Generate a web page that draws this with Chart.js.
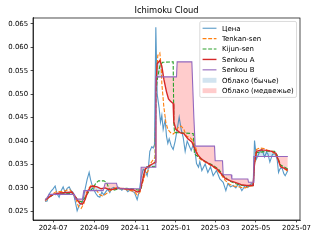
<!DOCTYPE html>
<html>
<head>
<meta charset="utf-8">
<script src="https://cdn.jsdelivr.net/npm/chart.js@4.4.1/dist/chart.umd.min.js"></script>
<style>
  html, body { margin: 0; padding: 0; background: #fff; }
</style>
</head>
<body>
<canvas id="myChart" width="320" height="240"></canvas>
<script>
(() => {
  'use strict'

  // x values are days counted from 2024-07-01
  const tickLabels = ['2024-07', '2024-09', '2024-11', '2025-01', '2025-03', '2025-05', '2025-07']
  const yTicks = [0.025, 0.030, 0.035, 0.040, 0.045, 0.050, 0.055, 0.060, 0.065]

  const priceDays = [
    -12, -9, -6, -3, 0, 3, 6, 9, 12, 15,
    18, 21, 24, 27, 30, 33, 36, 39, 42, 45,
    48, 51, 54, 56, 58, 61, 64, 67, 70, 73,
    76, 79, 82, 85, 88, 91, 94, 97, 100, 103,
    106, 109, 112, 115, 118, 122, 126, 129, 132, 135,
    138, 141, 143, 145, 148, 150, 152, 154, 156, 159,
    161, 163, 165, 168, 170, 172, 174, 177, 180, 183,
    186, 189, 192, 195, 198, 201, 204, 207, 210, 213,
    215, 218, 220, 223, 228, 232, 236, 240, 245, 250,
    255, 259, 262, 266, 270, 274, 278, 283, 288, 292,
    297, 300, 302, 305, 309, 313, 317, 320, 322, 325,
    329, 333, 336, 338, 340, 343, 346, 348, 352
  ]
  const priceValues = [
    0.0271, 0.0272, 0.0287, 0.0293, 0.0298, 0.0304, 0.0287, 0.0280, 0.0294, 0.0302,
    0.0290, 0.0299, 0.0302, 0.0294, 0.0290, 0.0272, 0.0251, 0.0262, 0.0266, 0.0276,
    0.0298, 0.0318, 0.0333, 0.0318, 0.0308, 0.0296, 0.0288, 0.0282, 0.0280, 0.0291,
    0.0285, 0.0292, 0.0297, 0.0290, 0.0299, 0.0301, 0.0298, 0.0302, 0.0299, 0.0295,
    0.0299, 0.0297, 0.0292, 0.0296, 0.0293, 0.0290, 0.0275, 0.0292, 0.0322, 0.0340,
    0.0336, 0.0326, 0.0345, 0.0378, 0.0388, 0.0385, 0.0392, 0.0643, 0.0500, 0.0470,
    0.0440, 0.0455, 0.0425, 0.0445, 0.0410, 0.0395, 0.0405, 0.0390, 0.0382, 0.0400,
    0.0425, 0.0451, 0.0425, 0.0408, 0.0378, 0.0400, 0.0390, 0.0380, 0.0392, 0.0376,
    0.0352, 0.0344, 0.0356, 0.0337, 0.0351, 0.0333, 0.0345, 0.0326, 0.0337, 0.0319,
    0.0312, 0.0294, 0.0309, 0.0302, 0.0305, 0.0300, 0.0309, 0.0294, 0.0305, 0.0301,
    0.0309, 0.0307, 0.0401, 0.0362, 0.0375, 0.0383, 0.0366, 0.0376, 0.0373, 0.0355,
    0.0372, 0.0373, 0.0360, 0.0333, 0.0340, 0.0344, 0.0330, 0.0326, 0.0337
  ]

  const tenkanDays = [
    -12, -6, 0, 5, 10, 15, 20, 25, 30, 34,
    38, 42, 46, 50, 54, 58, 62, 66, 70, 74,
    78, 82, 86, 90, 94, 98, 102, 106, 110, 114,
    118, 122, 126, 130, 134, 138, 142, 146, 150, 153,
    154, 157, 160, 162, 163, 166, 169, 172, 176, 180,
    184, 188, 192, 196, 200, 205, 210, 214, 218, 222,
    228, 234, 240, 246, 252, 258, 264, 270, 276, 282,
    288, 294, 300, 302, 305, 310, 316, 322, 328, 334,
    338, 342, 346, 352
  ]
  const tenkanValues = [
    0.0272, 0.0280, 0.0288, 0.0292, 0.0292, 0.0292, 0.0295, 0.0296, 0.0288, 0.0277,
    0.0260, 0.0256, 0.0266, 0.0290, 0.0300, 0.0307, 0.0300, 0.0293, 0.0285, 0.0283,
    0.0286, 0.0290, 0.0294, 0.0298, 0.0300, 0.0300, 0.0298, 0.0298, 0.0296, 0.0294,
    0.0294, 0.0292, 0.0285, 0.0290, 0.0310, 0.0330, 0.0335, 0.0352, 0.0360, 0.0365,
    0.0520, 0.0583, 0.0588, 0.0560, 0.0523, 0.0473, 0.0440, 0.0425, 0.0418, 0.0415,
    0.0420, 0.0430, 0.0432, 0.0425, 0.0410, 0.0408, 0.0400, 0.0385, 0.0365, 0.0360,
    0.0355, 0.0350, 0.0345, 0.0338, 0.0328, 0.0316, 0.0308, 0.0304, 0.0303, 0.0301,
    0.0300, 0.0303, 0.0305, 0.0350, 0.0382, 0.0385, 0.0384, 0.0380, 0.0378, 0.0370,
    0.0360, 0.0345, 0.0342, 0.0335
  ]

  const kijunDays = [
    -12, 0, 10, 20, 30, 34, 38, 44, 50, 54,
    60, 64, 68, 76, 80, 84, 90, 100, 110, 120,
    128, 132, 136, 140, 153, 154, 156, 160, 164, 180,
    181, 182, 210, 212, 216, 222, 230, 240, 248, 256,
    264, 272, 280, 290, 300, 302, 304, 320, 332, 336,
    340, 346, 352
  ]
  const kijunValues = [
    0.0275, 0.0285, 0.0287, 0.0288, 0.0288, 0.0280, 0.0272, 0.0270, 0.0285, 0.0292,
    0.0300, 0.0310, 0.0315, 0.0315, 0.0312, 0.0298, 0.0295, 0.0298, 0.0299, 0.0298,
    0.0295, 0.0300, 0.0330, 0.0345, 0.0346, 0.0500, 0.0530, 0.0560, 0.0568, 0.0569,
    0.0440, 0.0418, 0.0416, 0.0372, 0.0368, 0.0362, 0.0355, 0.0348, 0.0340, 0.0325,
    0.0315, 0.0310, 0.0306, 0.0304, 0.0305, 0.0352, 0.0375, 0.0378, 0.0378, 0.0370,
    0.0350, 0.0345, 0.0340
  ]

  const spanADays = [
    -12, -6, 0, 10, 20, 28, 32, 36, 40, 44,
    48, 52, 56, 60, 66, 72, 78, 84, 90, 96,
    102, 108, 114, 120, 126, 130, 134, 138, 144, 150,
    153, 154, 156, 160, 163, 166, 170, 173, 176, 180,
    181, 184, 190, 196, 202, 208, 212, 216, 222, 228,
    234, 240, 246, 252, 258, 266, 274, 282, 290, 300,
    302, 305, 312, 320, 328, 334, 338, 341, 346, 352
  ]
  const spanAValues = [
    0.0274, 0.0280, 0.0286, 0.0289, 0.0290, 0.0291, 0.0284, 0.0275, 0.0267, 0.0265,
    0.0275, 0.0292, 0.0302, 0.0304, 0.0302, 0.0298, 0.0300, 0.0296, 0.0297, 0.0299,
    0.0299, 0.0298, 0.0297, 0.0296, 0.0291, 0.0293, 0.0315, 0.0340, 0.0347, 0.0352,
    0.0355, 0.0510, 0.0565, 0.0572, 0.0560, 0.0532, 0.0505, 0.0490, 0.0485, 0.0480,
    0.0440, 0.0425, 0.0418, 0.0416, 0.0405, 0.0398, 0.0385, 0.0372, 0.0362, 0.0356,
    0.0351, 0.0346, 0.0340, 0.0330, 0.0320, 0.0315, 0.0311, 0.0307, 0.0305, 0.0305,
    0.0352, 0.0378, 0.0381, 0.0380, 0.0378, 0.0374, 0.0358, 0.0345, 0.0342, 0.0338
  ]

  const spanBDays = [
    -12, -6, 32, 33, 44, 46, 75, 78, 95, 97,
    131, 132, 153, 154, 185, 186, 208, 211, 213, 242,
    243, 254, 255, 267, 268, 292, 293, 300, 301, 352
  ]
  const spanBValues = [
    0.0273, 0.0286, 0.0286, 0.0276, 0.0276, 0.0294, 0.0294, 0.0310, 0.0310, 0.0298,
    0.0298, 0.0344, 0.0344, 0.0537, 0.0537, 0.0569, 0.0569, 0.0451, 0.0389, 0.0389,
    0.0358, 0.0358, 0.0328, 0.0328, 0.0319, 0.0319, 0.0312, 0.0312, 0.0367, 0.0367
  ]

  const cloudLabels = ['Облако (бычье)', 'Облако (медвежье)']
  const bullColor = 'rgba(31, 119, 180, 0.2)'
  const bearColor = 'rgba(255, 0, 0, 0.2)'

  const font = '"DejaVu Sans", sans-serif'
  const toPoints = (days, vals) => days.map((d, i) => ({ x: d, y: vals[i] }))
  const dayOf = s => {
    const [y, m] = s.split('-').map(Number)
    return (Date.UTC(y, m - 1, 1) - Date.UTC(2024, 6, 1)) / 864e5
  }

  // matplotlib-like 5% margins
  const allDays = [].concat(priceDays, tenkanDays, kijunDays, spanADays, spanBDays)
  const allVals = [].concat(priceValues, tenkanValues, kijunValues, spanAValues, spanBValues)
  const xMin = Math.min(...allDays)
  const xMax = Math.max(...allDays)
  const yMin = Math.min(...allVals)
  const yMax = Math.max(...allVals)
  const xPad = (xMax - xMin) * 0.05
  const yPad = (yMax - yMin) * 0.05

  const frame = {
    id: 'frame',
    afterDatasetsDraw (chart) {
      const { ctx, chartArea: a } = chart
      ctx.save()
      ctx.strokeStyle = '#000'
      ctx.lineWidth = 0.7
      ctx.strokeRect(a.left, a.top, a.right - a.left, a.bottom - a.top)
      ctx.restore()
    }
  }

  const legendBox = {
    id: 'legendBox',
    afterDraw (chart) {
      const { ctx, chartArea } = chart
      const fs = 6.94
      const items = chart.data.datasets.map(ds => ({
        label: ds.label, color: ds.borderColor, dash: ds.borderDash || [], width: ds.borderWidth
      }))
      items.push({ label: cloudLabels[0], patch: bullColor })
      items.push({ label: cloudLabels[1], patch: bearColor })

      ctx.save()
      ctx.font = fs + 'px ' + font
      const textW = Math.max(...items.map(it => ctx.measureText(it.label).width))
      const pad = 0.4 * fs
      const handle = 2 * fs
      const gap = 0.8 * fs
      const rowH = 10.4
      const w = pad * 2 + handle + gap + textW
      const h = pad * 2 + rowH * (items.length - 1) + 8
      const x = chartArea.right - 0.5 * fs - w
      const y = chartArea.top + 0.5 * fs

      ctx.beginPath()
      ctx.roundRect(x, y, w, h, 1.5)
      ctx.fillStyle = 'rgba(255, 255, 255, 0.8)'
      ctx.fill()
      ctx.strokeStyle = '#cccccc'
      ctx.lineWidth = 0.7
      ctx.stroke()

      items.forEach((it, i) => {
        const cy = y + pad + 4 + i * rowH
        if (it.patch) {
          ctx.fillStyle = it.patch
          ctx.fillRect(x + pad, cy - 2.4, handle, 4.9)
        } else {
          ctx.beginPath()
          ctx.setLineDash(it.dash)
          ctx.strokeStyle = it.color
          ctx.lineWidth = it.width
          ctx.moveTo(x + pad, cy)
          ctx.lineTo(x + pad + handle, cy)
          ctx.stroke()
          ctx.setLineDash([])
        }
        ctx.fillStyle = '#000'
        ctx.textBaseline = 'middle'
        ctx.fillText(it.label, x + pad + handle + gap, cy + 0.5)
      })
      ctx.restore()
    }
  }

  const line = (label, days, vals, color, width, dash, order) => ({
    label,
    data: toPoints(days, vals),
    borderColor: color,
    backgroundColor: color,
    borderWidth: width,
    borderDash: dash,
    pointRadius: 0,
    tension: 0,
    fill: false,
    order
  })

  const datasets = [
    line('Цена', priceDays, priceValues, 'rgba(31, 119, 180, 0.75)', 1.1, [], 5),
    line('Tenkan-sen', tenkanDays, tenkanValues, '#ff7f0e', 1.1, [3.9, 1.7], 4),
    line('Kijun-sen', kijunDays, kijunValues, '#2ca02c', 1.1, [3.9, 1.7], 3),
    line('Senkou A', spanADays, spanAValues, '#d62728', 1.4, [], 2),
    line('Senkou B', spanBDays, spanBValues, '#9467bd', 1.1, [], 1)
  ]
  datasets[3].fill = { target: 4, above: bullColor, below: bearColor }

  const ctx = document.getElementById('myChart')
  new Chart(ctx, {
    type: 'line',
    data: { datasets },
    options: {
      responsive: false,
      animation: false,
      layout: { padding: { left: 0, right: 20, top: 0, bottom: 0 } },
      scales: {
        x: {
          type: 'linear',
          min: xMin - xPad,
          max: xMax + xPad,
          afterBuildTicks: axis => { axis.ticks = tickLabels.map(s => ({ value: dayOf(s) })) },
          afterFit: axis => { axis.height = 20 },
          ticks: {
            autoSkip: false,
            maxRotation: 0,
            padding: 2,
            color: '#000',
            font: { family: font, size: 6.94 },
            callback: (v, i) => tickLabels[i]
          },
          grid: { drawOnChartArea: false, drawTicks: true, tickLength: 2.4, color: '#000', lineWidth: 0.7 },
          border: { display: true, color: '#000', width: 0.7 }
        },
        y: {
          type: 'linear',
          min: yMin - yPad,
          max: yMax + yPad,
          afterBuildTicks: axis => { axis.ticks = yTicks.map(v => ({ value: v })) },
          afterFit: axis => { axis.width = 33 },
          ticks: {
            padding: 2.4,
            color: '#000',
            font: { family: font, size: 6.94 },
            callback: v => v.toFixed(3)
          },
          grid: { drawOnChartArea: false, drawTicks: true, tickLength: 2.4, color: '#000', lineWidth: 0.7 },
          border: { display: true, color: '#000', width: 0.7 }
        }
      },
      plugins: {
        legend: { display: false },
        tooltip: { enabled: false },
        filler: { drawTime: 'beforeDatasetsDraw' },
        title: {
          display: true,
          text: 'Ichimoku Cloud',
          fullSize: false,
          color: '#000',
          font: { family: font, size: 8.33, weight: 'normal' },
          padding: { top: 6, bottom: 2 }
        }
      }
    },
    plugins: [frame, legendBox]
  })
})()
</script>
</body>
</html>
